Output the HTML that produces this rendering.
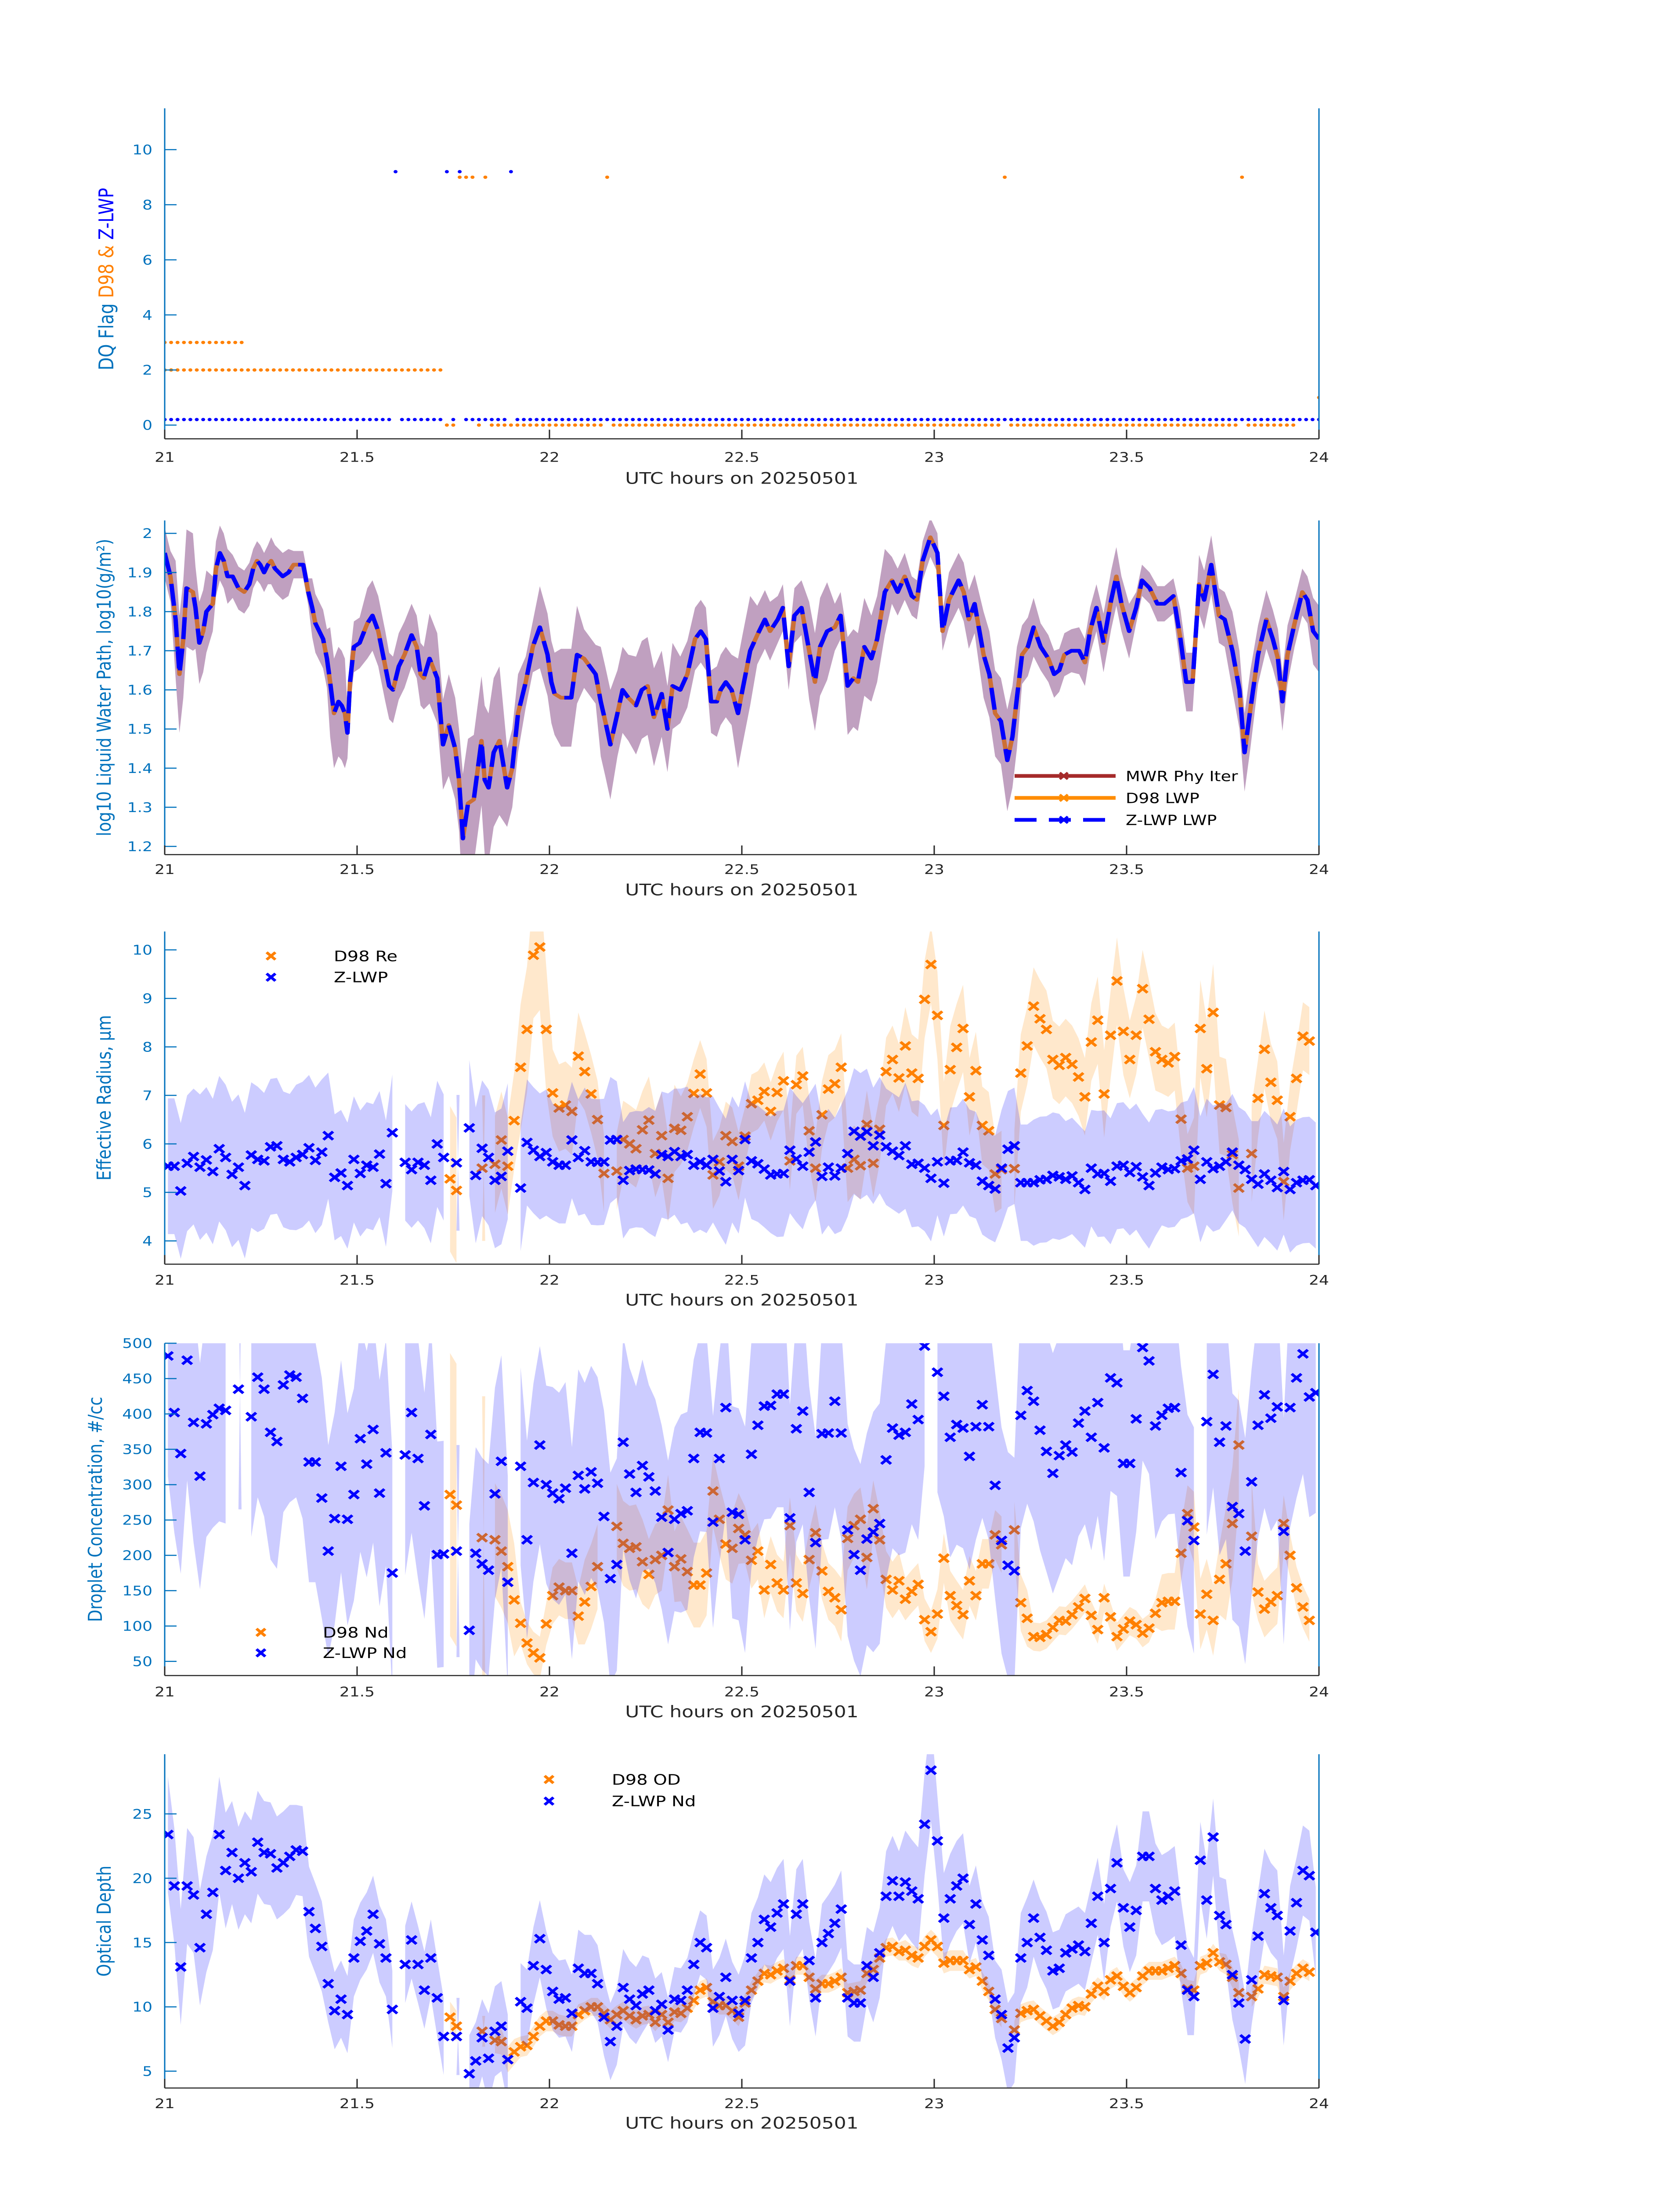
<!DOCTYPE html>
<html><head><meta charset="utf-8"><title>Cloud retrieval panels</title>
<style>
html,body{margin:0;padding:0;background:#fff;overflow:hidden;width:100%;height:100%;}
svg{display:block;width:100vw;height:100vh;}
text{font-family:"DejaVu Sans","Liberation Sans",sans-serif;}
</style></head>
<body>
<svg id="fig" xmlns="http://www.w3.org/2000/svg" viewBox="0 0 3825 6000" preserveAspectRatio="none"></svg>
<script>
// ---------- DATA ----------
const xTickVals = [21, 21.5, 22, 22.5, 23, 23.5, 24];
const xTickLabels = ["21","21.5","22","22.5","23","23.5","24"];

// Panel 1: DQ flags, one per minute (index = minute after 21 UTC)
const d98Flag = [2,2,2,2,2,2,2,2,2,2,
2,2,2,2,2,2,2,2,2,2,
2,2,2,2,2,2,2,2,2,2,
2,2,2,2,2,2,2,2,2,2,
2,2,2,2,0,0,9,9,9,0,
9,0,0,0,0,0,0,0,0,0,
0,0,0,0,0,0,0,0,0,9,
0,0,0,0,0,0,0,0,0,0,
0,0,0,0,0,0,0,0,0,0,
0,0,0,0,0,0,0,0,0,0,
0,0,0,0,0,0,0,0,0,0,
0,0,0,0,0,0,0,0,0,0,
0,0,0,0,0,0,0,0,0,0,
0,9,0,0,0,0,0,0,0,0,
0,0,0,0,0,0,0,0,0,0,
0,0,0,0,0,0,0,0,0,0,
0,0,0,0,0,0,0,0,9,0,
0,0,0,0,0,0,0,null,null,null,
1];
const d98Flag2 = [3,3,3,3,3,3,3,3,3,3,3,3,3];
const zFlag = [0,0,0,0,0,0,0,0,0,0,
0,0,0,0,0,0,0,0,0,0,
0,0,0,0,0,0,0,0,0,0,
0,0,0,0,0,0,9,0,0,0,
0,0,0,0,9,0,9,0,0,0,
0,0,0,0,9,0,0,0,0,0,
0,0,0,0,0,0,0,0,0,0,
0,0,0,0,0,0,0,0,0,0,
0,0,0,0,0,0,0,0,0,0,
0,0,0,0,0,0,0,0,0,0,
0,0,0,0,0,0,0,0,0,0,
0,0,0,0,0,0,0,0,0,0,
0,0,0,0,0,0,0,0,0,0,
0,0,0,0,0,0,0,0,0,0,
0,0,0,0,0,0,0,0,0,0,
0,0,0,0,0,0,0,0,0,0,
0,0,0,0,0,0,0,0,0,0,
0,0,0,0,0,0,0,0,0,0,
0];

// Panel 2: LWP (minutes after 21 UTC, log10 g/m2)
const lwpTimes = [0,0.9,1.7,2.3,2.9,3.4,4.4,4.8,5.4,6.0,
6.5,7.5,8.0,8.6,9.2,9.8,10.6,11.5,12.4,13.2,
13.8,14.4,14.9,15.5,16.1,16.6,17.2,18.4,19.3,20.1,
20.9,21.6,22.4,23.0,23.5,24.1,24.7,25.3,25.8,26.4,
27.1,27.6,28.1,28.5,28.9,29.5,30.4,31.6,32.4,33.3,
34.4,35.0,35.6,36.5,37.4,38.5,39.3,39.9,40.4,41.3,
42.5,43.4,44.3,45.3,45.9,46.5,47.3,48.2,49.4,49.9,
50.5,51.3,52.2,53.4,54.2,55.1,56.3,57.4,58.5,59.7,
60.3,60.8,61.8,62.6,63.4,64.3,65.4,67.2,68.0,68.7,
69.5,70.6,71.4,72.3,73.5,74.4,75.3,76.3,77.5,78.4,
79.2,80.4,81.5,82.7,83.6,84.4,85.2,86.1,86.7,87.5,
88.4,89.4,90.1,91.3,92.4,93.6,94.4,95.6,96.4,97.3,
98.2,99.3,100.5,101.4,102.2,103.3,104.5,105.4,106.5,107.4,
108.1,109.1,110.2,111.1,112.3,113.4,114.3,115.4,116.5,117.3,
118.2,119.4,120.5,121.3,122.3,123.8,124.6,125.4,126.3,127.7,
128.6,129.5,130.4,131.4,132.2,132.9,133.7,134.6,135.5,136.6,
137.8,138.7,139.5,140.3,141.4,142.6,143.5,144.3,145.3,146.4,
147.6,148.4,149.2,150.4,151.5,152.4,153.6,154.8,155.9,157.3,
158.4,159.3,160.3,161.3,162.1,163.2,164.4,165.3,166.5,167.6,
168.4,169.3,170.5,171.8,172.8,173.6,174.3,175.1,176.2,177.4,
178.2,179.1,180];
const d98Lwp = [1.95,1.89,1.78,1.64,1.73,1.86,1.85,1.81,1.72,1.75,
1.80,1.82,1.91,1.95,1.93,1.89,1.89,1.86,1.85,1.87,
1.91,1.93,1.92,1.90,1.92,1.93,1.91,1.89,1.90,1.92,
1.92,1.92,1.85,1.81,1.77,1.75,1.73,1.68,1.62,1.54,
1.57,1.56,1.54,1.49,1.62,1.71,1.72,1.77,1.79,1.75,
1.66,1.61,1.60,1.66,1.69,1.74,1.71,1.64,1.63,1.68,
1.63,1.46,1.51,1.45,1.37,1.22,1.31,1.32,1.47,1.37,
1.35,1.44,1.47,1.35,1.40,1.54,1.62,1.71,1.76,1.69,
1.62,1.59,1.58,1.58,1.58,1.69,1.68,1.64,1.57,1.52,
1.46,1.54,1.60,1.58,1.56,1.60,1.61,1.53,1.59,1.50,
1.61,1.60,1.64,1.73,1.75,1.73,1.57,1.57,1.60,1.62,
1.60,1.54,1.60,1.70,1.74,1.78,1.75,1.78,1.81,1.66,
1.79,1.81,1.70,1.62,1.71,1.75,1.76,1.79,1.61,1.63,
1.62,1.71,1.68,1.73,1.85,1.88,1.85,1.89,1.84,1.83,
1.93,1.99,1.95,1.75,1.83,1.88,1.85,1.78,1.82,1.69,
1.64,1.54,1.52,1.42,1.48,1.58,1.69,1.71,1.76,1.71,
1.68,1.64,1.65,1.69,1.70,1.70,1.67,1.75,1.81,1.72,
1.83,1.89,1.82,1.75,1.81,1.88,1.86,1.82,1.82,1.84,
1.73,1.62,1.62,1.87,1.83,1.92,1.79,1.78,1.70,1.60,
1.44,1.55,1.69,1.78,1.73,1.68,1.57,1.69,1.77,1.85,
1.83,1.75,1.73];
const zLwp = [1.95,1.89,1.78,1.64,1.73,1.86,1.85,1.81,1.72,1.75,
1.80,1.82,1.91,1.95,1.93,1.89,1.89,1.86,1.85,1.87,
1.91,1.93,1.92,1.90,1.92,1.93,1.91,1.89,1.90,1.92,
1.92,1.92,1.85,1.81,1.77,1.75,1.73,1.68,1.62,1.54,
1.57,1.56,1.54,1.49,1.62,1.71,1.72,1.77,1.79,1.75,
1.66,1.61,1.60,1.66,1.69,1.74,1.71,1.64,1.63,1.68,
1.63,1.46,1.51,1.45,1.37,1.22,1.31,1.32,1.47,1.37,
1.35,1.44,1.47,1.35,1.40,1.54,1.62,1.71,1.76,1.69,
1.62,1.59,1.58,1.58,1.58,1.69,1.68,1.64,1.57,1.52,
1.46,1.54,1.60,1.58,1.56,1.60,1.61,1.53,1.59,1.50,
1.61,1.60,1.64,1.73,1.75,1.73,1.57,1.57,1.60,1.62,
1.60,1.54,1.60,1.70,1.74,1.78,1.75,1.78,1.81,1.66,
1.79,1.81,1.70,1.62,1.71,1.75,1.76,1.79,1.61,1.63,
1.62,1.71,1.68,1.73,1.85,1.88,1.85,1.89,1.84,1.83,
1.93,1.99,1.95,1.75,1.83,1.88,1.85,1.78,1.82,1.69,
1.64,1.54,1.52,1.42,1.48,1.58,1.69,1.71,1.76,1.71,
1.68,1.64,1.65,1.69,1.70,1.70,1.67,1.75,1.81,1.72,
1.83,1.89,1.82,1.75,1.81,1.88,1.86,1.82,1.82,1.84,
1.73,1.62,1.62,1.87,1.83,1.92,1.79,1.78,1.70,1.60,
1.44,1.55,1.69,1.78,1.73,1.68,1.57,1.69,1.77,1.85,
1.83,1.75,1.73];
// uncertainty half-width, one value per 3 minutes
const lwpErr = [0.065,0.15,0.105,0.07,0.055,0.05,0.06,0.035,0.075,0.14,
0.065,0.09,0.085,0.08,0.115,0.13,0.165,0.19,0.10,0.065,
0.105,0.125,0.075,0.14,0.11,0.125,0.11,0.085,0.08,0.09,
0.14,0.075,0.06,0.07,0.125,0.06,0.125,0.11,0.06,0.05,
0.05,0.07,0.075,0.11,0.13,0.075,0.06,0.055,0.06,0.075,
0.07,0.04,0.045,0.075,0.075,0.07,0.10,0.075,0.075,0.06,0.085];

// Panels 3-5: per-minute retrievals (minutes after 21 UTC)
const minutes = [0.5,1.5,2.5,3.5,4.5,5.5,6.5,7.5,8.5,9.5,
10.5,11.5,12.5,13.5,14.5,15.5,16.5,17.5,18.5,19.5,
20.5,21.5,22.5,23.5,24.5,25.5,26.5,27.5,28.5,29.5,
30.5,31.5,32.5,33.5,34.5,35.5,36.5,37.5,38.5,39.5,
40.5,41.5,42.5,43.5,44.5,45.5,46.5,47.5,48.5,49.5,
50.5,51.5,52.5,53.5,54.5,55.5,56.5,57.5,58.5,59.5,
60.5,61.5,62.5,63.5,64.5,65.5,66.5,67.5,68.5,69.5,
70.5,71.5,72.5,73.5,74.5,75.5,76.5,77.5,78.5,79.5,
80.5,81.5,82.5,83.5,84.5,85.5,86.5,87.5,88.5,89.5,
90.5,91.5,92.5,93.5,94.5,95.5,96.5,97.5,98.5,99.5,
100.5,101.5,102.5,103.5,104.5,105.5,106.5,107.5,108.5,109.5,
110.5,111.5,112.5,113.5,114.5,115.5,116.5,117.5,118.5,119.5,
120.5,121.5,122.5,123.5,124.5,125.5,126.5,127.5,128.5,129.5,
130.5,131.5,132.5,133.5,134.5,135.5,136.5,137.5,138.5,139.5,
140.5,141.5,142.5,143.5,144.5,145.5,146.5,147.5,148.5,149.5,
150.5,151.5,152.5,153.5,154.5,155.5,156.5,157.5,158.5,159.5,
160.5,161.5,162.5,163.5,164.5,165.5,166.5,167.5,168.5,169.5,
170.5,171.5,172.5,173.5,174.5,175.5,176.5,177.5,178.5,179.5];

const zRe = [5.54,5.54,5.03,5.6,5.74,5.52,5.67,5.43,5.9,5.72,
5.37,5.52,5.14,5.77,5.68,5.65,5.94,5.96,5.68,5.63,
5.72,5.78,5.92,5.66,5.83,6.17,5.31,5.4,5.14,5.68,
5.39,5.56,5.52,5.79,5.18,6.23,null,5.62,5.47,5.62,
5.56,5.25,6.0,5.72,null,5.61,null,6.33,5.35,5.91,
5.72,5.25,5.33,5.85,null,5.09,6.03,5.87,5.74,5.82,
5.63,5.56,5.56,6.08,5.72,5.86,5.63,5.62,5.63,6.08,
6.09,5.25,5.45,5.48,5.47,5.46,5.38,5.78,5.74,5.84,
5.74,5.78,5.56,5.63,5.56,5.68,5.44,5.22,5.68,5.45,
6.09,5.65,5.59,5.48,5.36,5.38,5.39,5.87,5.69,5.54,
5.83,6.04,5.33,5.52,5.34,5.5,5.8,6.26,6.16,6.25,
5.96,6.18,5.94,5.85,5.76,5.96,5.58,5.6,5.5,5.29,
5.63,5.19,5.65,5.66,5.83,5.61,5.56,5.23,5.14,5.07,
5.5,5.89,5.96,5.2,5.2,5.2,5.26,5.27,5.35,5.32,
5.27,5.34,5.2,5.06,5.5,5.38,5.39,5.23,5.54,5.56,
5.41,5.53,5.32,5.14,5.4,5.52,5.47,5.49,5.65,5.69,
5.87,5.27,5.63,5.49,5.54,5.63,5.83,5.56,5.47,5.27,
5.17,5.38,5.25,5.1,5.43,5.06,5.2,5.25,5.26,5.14];
const dRe = [null,null,null,null,null,null,null,null,null,null,
null,null,null,null,null,null,null,null,null,null,
null,null,null,null,null,null,null,null,null,null,
null,null,null,null,null,null,null,null,null,null,
null,null,null,null,5.28,5.04,null,null,null,5.5,
null,5.58,6.08,5.54,6.48,7.58,8.36,9.89,10.06,8.36,
7.05,6.74,6.8,6.67,7.81,7.49,7.03,6.5,5.39,null,
5.44,6.09,6.0,5.9,6.29,6.49,5.8,6.17,5.29,6.32,
6.28,6.56,7.04,7.44,7.05,5.36,5.63,6.17,6.05,5.54,
6.16,6.83,6.9,7.08,6.67,7.06,7.3,5.65,7.22,7.4,
6.27,5.5,6.6,7.13,7.24,7.58,5.5,5.68,5.55,6.4,
5.6,6.3,7.49,7.74,7.36,8.02,7.46,7.35,8.98,9.7,
8.65,6.38,7.53,7.99,8.38,6.97,7.51,6.38,6.27,5.38,
5.47,null,5.49,7.46,8.02,8.84,8.58,8.36,7.74,7.62,
7.78,7.64,7.38,6.97,8.1,8.55,7.03,8.24,9.36,8.32,
7.74,8.24,9.2,8.57,7.9,7.74,7.67,7.8,6.51,5.5,
5.54,8.38,7.55,8.71,6.8,6.75,5.78,5.09,null,5.8,
6.94,7.95,7.27,6.9,5.22,6.56,7.35,8.22,8.12,null];
// uncertainty half-widths, one value per 5 minutes
const zReErr = [1.4,1.5,1.5,1.4,1.5,1.3,1.3,1.2,1.3,1.4,1.4,1.3,1.2,1.3,1.2,1.3,1.4,1.3,1.2,1.3,1.2,1.3,1.2,1.3,1.1,1.1,1.2,1.3,1.2,1.3,1.3,1.2,1.3,1.2,1.3,1.3];
const dReErr = [0,0,0,0,0,0,0,0,1.5,1.5,1.0,1.3,0.9,0.8,0.8,0.9,0.7,0.7,0.6,0.6,0.7,0.7,0.7,0.8,0.9,0.8,0.8,0.8,0.8,0.9,0.8,0.7,1.0,1.0,0.8,0.7];

const zNd = [482,402,344,476,388,312,386,399,408,405,
null,435,null,396,452,435,374,361,441,455,
452,422,332,332,281,206,252,326,251,286,
365,329,378,288,345,175,null,342,402,337,
270,371,201,202,null,206,null,94,203,188,
179,287,333,162,null,326,222,303,356,300,
288,280,295,203,313,294,318,302,255,167,
187,360,315,289,327,311,291,254,204,251,
259,263,337,374,373,247,337,409,261,258,
222,343,384,411,412,428,428,253,379,404,
289,218,372,373,418,373,236,201,179,223,
233,245,335,380,370,374,414,392,496,null,
459,425,367,385,380,340,382,413,382,299,
221,186,178,398,433,418,377,347,316,341,
356,346,387,404,367,416,352,451,444,330,
330,393,494,475,383,398,408,409,317,249,
221,null,389,456,360,383,269,259,206,304,
384,427,394,410,234,409,451,485,424,430];
const dNd = [null,null,null,null,null,null,null,null,null,null,
null,null,null,null,null,null,null,null,null,null,
null,null,null,null,null,null,null,null,null,null,
null,null,null,null,null,null,null,null,null,null,
null,null,null,null,286,271,null,null,null,225,
null,222,206,184,137,104,76,62,55,103,
143,155,150,150,114,134,156,184,null,null,
241,217,210,212,191,173,194,200,264,184,
195,177,158,158,175,291,251,216,210,238,
229,193,206,151,187,161,151,242,161,146,
194,232,178,149,140,123,224,242,251,197,
266,222,166,151,164,138,149,159,109,92,
117,196,143,129,116,164,143,188,188,229,
215,null,236,133,111,85,84,88,98,108,
107,116,127,139,115,95,140,113,85,96,
107,102,90,97,118,133,135,135,203,259,
240,117,145,108,166,188,245,356,null,227,
148,124,134,143,245,200,154,127,108,null];
const zNdErr = [170,160,170,180,170,150,160,170,160,150,150,140,150,150,150,130,140,150,160,160,150,150,170,170,170,160,160,170,160,160,160,150,160,160,160,170];
const dNdErr = [0,0,0,0,0,0,0,0,200,200,80,30,40,60,60,50,60,50,40,40,40,45,40,30,35,35,40,20,20,20,20,40,50,80,40,30];

const zOd = [23.4,19.4,13.1,19.4,18.7,14.6,17.2,18.9,23.4,20.6,
22.0,20.0,21.2,20.5,22.8,22.0,21.9,20.8,21.2,21.7,
22.2,22.1,17.4,16.1,14.7,11.8,9.7,10.6,9.4,13.8,
15.1,15.9,17.2,14.9,13.8,9.8,null,13.3,15.2,13.3,
11.3,13.8,10.7,7.7,null,7.7,null,4.8,5.8,7.6,
6.0,8.1,8.5,5.9,null,10.4,9.9,13.2,15.3,12.9,
11.2,10.6,10.7,9.5,13.0,12.6,12.6,11.8,9.2,7.3,
8.5,11.5,10.6,10.1,11.0,11.3,9.7,10.2,8.2,10.6,
10.5,11.3,13.3,15.0,14.6,9.9,10.8,12.3,10.5,9.5,
10.5,13.8,15.0,16.8,16.2,17.3,18.0,12.0,17.2,18.0,
13.6,10.7,15.0,15.7,16.5,17.6,10.7,10.3,10.3,13.2,
12.3,14.2,18.6,19.8,18.6,19.7,19.0,18.4,24.2,28.4,
22.9,16.9,18.4,19.4,20.0,16.4,18.0,15.2,14.0,10.6,
9.4,6.8,7.6,13.8,15.0,16.9,15.4,14.4,12.8,13.0,
14.2,14.5,14.8,14.3,16.5,18.6,15.0,19.2,21.2,17.7,
16.2,17.5,21.7,21.7,19.2,18.3,18.6,19.0,14.8,11.3,
10.8,21.4,18.3,23.2,17.1,16.4,12.5,10.3,7.5,12.1,
15.5,18.8,17.7,17.1,10.5,15.9,18.1,20.6,20.2,15.8];
const dOd = [null,null,null,null,null,null,null,null,null,null,
null,null,null,null,null,null,null,null,null,null,
null,null,null,null,null,null,null,null,null,null,
null,null,null,null,null,null,null,null,null,null,
null,null,null,null,9.2,8.5,null,null,null,8.1,
null,7.4,7.3,5.9,6.5,6.9,7.0,7.7,8.5,8.9,
8.9,8.6,8.5,8.5,9.4,9.7,10.0,10.0,9.5,9.0,
9.4,9.7,9.3,9.0,9.3,9.4,8.8,9.4,8.8,9.6,
9.5,9.9,10.5,11.3,11.5,10.4,10.1,10.1,9.7,9.2,
10.3,11.3,12.0,12.6,12.5,12.8,13.0,12.1,13.2,13.2,
12.3,11.4,11.8,11.8,12.0,12.3,11.1,11.2,11.3,12.6,
12.9,13.8,14.6,14.7,14.3,14.4,14.0,13.8,14.7,15.2,
14.7,13.4,13.6,13.6,13.6,12.9,13.1,12.0,11.2,9.8,
9.1,null,8.2,9.5,9.7,9.8,9.3,8.9,8.5,8.8,
9.4,9.9,10.1,10.0,11.0,11.6,11.2,12.1,12.4,11.6,
11.1,11.5,12.4,12.8,12.8,12.8,13.0,13.2,12.6,11.4,
11.3,13.2,13.4,14.2,13.5,13.3,12.3,11.1,null,10.8,
11.4,12.5,12.4,12.3,10.8,12.0,12.6,13.0,12.7,null];
const zOdErr = [4.5,4.5,4,4,3.5,3,3,3,3,3,3.5,3,3,3,3,2.5,2.5,3,3.5,3.5,3,3,3.5,4,3.5,3,3.5,3,3,3,3.5,3.5,3,3.5,3.5,3.5];
const dOdErr = [0,0,0,0,0,0,0,0,1.2,1.2,1.0,0.8,0.8,0.7,0.7,0.7,0.7,0.7,0.7,0.7,0.7,0.7,0.7,0.8,0.8,0.7,0.7,0.7,0.7,0.7,0.7,0.7,0.7,0.8,0.7,0.7];

// ---------- RENDER ----------
const NS = "http://www.w3.org/2000/svg";
const svg = document.getElementById("fig");
const X0 = 375, X1 = 3003;
const BLUE = "#0000ff", ORANGE = "#ff8000", AX = "#0072BD", DARK = "#262626";
function mk(tag, attrs, parent) {
  const el = document.createElementNS(NS, tag);
  for (const k in attrs) el.setAttribute(k, attrs[k]);
  (parent || svg).appendChild(el);
  return el;
}
function xMin(m) { return X0 + m / 180 * (X1 - X0); }
function xHour(h) { return xMin((h - 21) * 60); }
function yScale(p) { return v => p.bottom - (v - p.ymin) / (p.ymax - p.ymin) * (p.bottom - p.top); }

const panels = [
  {id:"dq", top:296, bottom:1199, ymin:-0.5, ymax:11.5, ticks:[0,2,4,6,8,10], xlab:1322, ticklab:1262},
  {id:"lwp", top:1422, bottom:2335, ymin:1.179, ymax:2.033, ticks:[1.2,1.3,1.4,1.5,1.6,1.7,1.8,1.9,2], xlab:2446, ticklab:2388},
  {id:"re", top:2545, bottom:3454, ymin:3.52, ymax:10.38, ticks:[4,5,6,7,8,9,10], xlab:3567, ticklab:3510},
  {id:"nd", top:3670, bottom:4578, ymin:30, ymax:500, ticks:[50,100,150,200,250,300,350,400,450,500], xlab:4692, ticklab:4635},
  {id:"od", top:4793, bottom:5705, ymin:3.69, ymax:29.64, ticks:[5,10,15,20,25], xlab:5816, ticklab:5760}
];
const yLabels = ["", "log10 Liquid Water Path, log10(g/m²)", "Effective Radius, μm", "Droplet Concentration, #/cc", "Optical Depth"];

const defs = mk("defs", {});
panels.forEach((p, pi) => {
  const cp = mk("clipPath", {id: "clip-" + p.id}, defs);
  mk("rect", {x: X0, y: p.top, width: X1 - X0, height: p.bottom - p.top}, cp);
  const g = mk("g", {});
  
  
  p.g = g;
  p.plot = mk("g", {"clip-path": "url(#clip-" + p.id + ")"}, g);
  
  
  p.y = yScale(p);
});

function drawAxes(p, pi) {
  const g = p.g;
  const yl = mk("line", {x1: X0, y1: p.top, x2: X0, y2: p.bottom, stroke: AX, "stroke-width": 3}, g);
  
  
  const rl = mk("line", {x1: X1, y1: p.top, x2: X1, y2: p.bottom, stroke: AX, "stroke-width": 3}, g);
  
  
  const bl = mk("line", {x1: X0, y1: p.bottom, x2: X1, y2: p.bottom, stroke: DARK, "stroke-width": 3}, g);
  
  
  p.ticks.forEach(v => {
    const yy = p.y(v);
    const t = mk("line", {x1: X0, y1: yy, x2: X0 + 27, y2: yy, stroke: AX, "stroke-width": 3}, g);
    
    
    const lab = mk("text", {x: 347, y: yy + 13, "text-anchor": "end", "font-size": 36, fill: AX}, g);
    
    
    lab.textContent = String(v);
  });
  xTickVals.forEach((h, i) => {
    const xx = xHour(h);
    const t = mk("line", {x1: xx, y1: p.bottom, x2: xx, y2: p.bottom - 25, stroke: DARK, "stroke-width": 3}, g);
    
    
    const lab = mk("text", {x: xx, y: p.ticklab, "text-anchor": "middle", "font-size": 36, fill: DARK}, g);
    
    
    lab.textContent = xTickLabels[i];
  });
  const xl = mk("text", {x: (X0 + X1) / 2, y: p.xlab, "text-anchor": "middle", "font-size": 44, fill: DARK}, g);
  
  
  xl.textContent = "UTC hours on 20250501";
  if (pi > 0) {
    const cy = (p.top + p.bottom) / 2;
    const lx = pi === 3 ? 232 : 252;
    const t = mk("text", {x: lx, y: cy, "text-anchor": "middle", "font-size": 44, fill: AX, transform: "rotate(-90 " + lx + " " + cy + ")"}, g);
    
    
    t.textContent = yLabels[pi];
  }
}
panels.forEach(drawAxes);

// Panel 1 y label (multi-colour)
(function(){
  const p = panels[0], cy = (p.top + p.bottom) / 2 + 15;
  const t = mk("text", {x: 258, y: cy, "text-anchor": "middle", "font-size": 46, fill: AX, transform: "rotate(-90 258 " + cy + ")"}, p.g);
  
  
  const s1 = mk("tspan", {fill: AX}, t); s1.textContent = "DQ Flag  ";
  const s2 = mk("tspan", {fill: ORANGE}, t); s2.textContent = "D98 &  ";
  const s3 = mk("tspan", {fill: BLUE}, t); s3.textContent = "Z-LWP";
})();

// Panel 1 dots
(function(){
  const p = panels[0];
  d98Flag.forEach((v, i) => {
    if (v === null) return;
    const c = mk("circle", {cx: xMin(i), cy: p.y(v), r: 4.5, fill: ORANGE}, p.plot);
    
    
  });
  d98Flag2.forEach((v, i) => {
    const c = mk("circle", {cx: xMin(i), cy: p.y(v), r: 4.5, fill: ORANGE}, p.plot);
    
    
  });
  zFlag.forEach((v, i) => {
    if (v === null) return;
    const c = mk("circle", {cx: xMin(i), cy: p.y(v + 0.2), r: 4.5, fill: BLUE}, p.plot);
    
    
  });
})();

// Panel 2 LWP
(function(){
  const p = panels[1];
  let up = [], dn = [];
  zLwp.forEach((v, i) => {
    const e = lwpErr[Math.min(lwpErr.length - 1, Math.round(lwpTimes[i] / 3))];
    up.push(xMin(lwpTimes[i]) + "," + p.y(v + e));
    dn.push(xMin(lwpTimes[i]) + "," + p.y(v - e));
  });
  const band = mk("polygon", {points: up.concat(dn.reverse()).join(" "), fill: "rgb(192,160,192)"}, p.plot);
  
  
  const dPts = d98Lwp.map((v, i) => xMin(lwpTimes[i]) + "," + p.y(v)).join(" ");
  const l1 = mk("polyline", {points: dPts, fill: "none", stroke: "#cd6f34", "stroke-width": 10, "stroke-linejoin": "round"}, p.plot);
  
  
  const zPts = zLwp.map((v, i) => xMin(lwpTimes[i]) + "," + p.y(v)).join(" ");
  const l2 = mk("polyline", {points: zPts, fill: "none", stroke: BLUE, "stroke-width": 10, "stroke-dasharray": "60 26", "stroke-linejoin": "round"}, p.plot);
  
  
  const items = [["MWR Phy Iter", "#a52a2a", null, 2120], ["D98 LWP", "#ff8c00", null, 2180], ["Z-LWP LWP", BLUE, "50 28", 2240]];
  items.forEach(it => {
    const lg = mk("g", {}, p.g);
    
    
    const a = {x1: 2310, y1: it[3], x2: 2540, y2: it[3], stroke: it[1], "stroke-width": 10};
    if (it[2]) a["stroke-dasharray"] = it[2];
    mk("line", a, lg);
    mk("path", {d: "M2413," + (it[3]-9) + " l18,18 M2431," + (it[3]-9) + " l-18,18", stroke: it[1], "stroke-width": 6}, lg);
    const t = mk("text", {x: 2563, y: it[3] + 14, "font-size": 38, fill: "#000"}, lg);
    t.textContent = it[0];
  });
})();

function drawBand(p, vals, errs, color, name) {
  let seg = [];
  const segs = [];
  vals.forEach((v, i) => {
    if (v === null) { if (seg.length) segs.push(seg); seg = []; return; }
    seg.push(i);
  });
  if (seg.length) segs.push(seg);
  segs.forEach(s => {
    const up = [], dn = [];
    s.forEach(i => {
      const e = errs[Math.floor(i / 5)];
      const x = xMin(minutes[i]);
      up.push(x + "," + p.y(vals[i] + e));
      dn.push(x + "," + p.y(vals[i] - e));
    });
    if (s.length === 1) {
      const x = xMin(minutes[s[0]]);
      up.push((x + 7) + "," + p.y(vals[s[0]] + errs[Math.floor(s[0]/5)]));
      dn.unshift((x + 7) + "," + p.y(vals[s[0]] - errs[Math.floor(s[0]/5)]));
    }
    const poly = mk("polygon", {points: up.concat(dn.reverse()).join(" "), fill: color}, p.plot);
    
    
  });
}
function drawCrosses(p, vals, color, name) {
  vals.forEach((v, i) => {
    if (v === null) return;
    const x = xMin(minutes[i]), y = p.y(v), s = 11;
    const c = mk("path", {d: "M" + (x - s) + "," + (y - s) + " L" + (x + s) + "," + (y + s) + " M" + (x + s) + "," + (y - s) + " L" + (x - s) + "," + (y + s), stroke: color, "stroke-width": 7}, p.plot);
    
    
  });
}
function legend(p, x, y1, y2, labels, tx) {
  [[ORANGE, labels[0], y1], [BLUE, labels[1], y2]].forEach(it => {
    const lg = mk("g", {}, p.g);
    
    
    mk("path", {d: "M" + (x-10) + "," + (it[2]-10) + " l20,20 M" + (x+10) + "," + (it[2]-10) + " l-20,20", stroke: it[0], "stroke-width": 7}, lg);
    const t = mk("text", {x: tx, y: it[2] + 14, "font-size": 40, fill: "#000"}, lg);
    t.textContent = it[1];
  });
}
const OB = "rgba(255,140,0,0.2)", BB = "rgba(0,0,255,0.2)";
[[panels[2], dRe, dReErr, zRe, zReErr, "re"], [panels[3], dNd, dNdErr, zNd, zNdErr, "nd"], [panels[4], dOd, dOdErr, zOd, zOdErr, "od"]].forEach(a => {
  const [p, dv, de, zv, ze, nm] = a;
  drawBand(p, dv, de, OB, "d98-" + nm + "-band");
  drawCrosses(p, dv, ORANGE, "d98-" + nm + "-point");
  drawBand(p, zv, ze, BB, "zlwp-" + nm + "-band");
  drawCrosses(p, zv, BLUE, "zlwp-" + nm + "-point");
});
legend(panels[2], 617, 2612, 2670, ["D98 Re", "Z-LWP"], 760);
legend(panels[3], 594, 4460, 4516, ["D98 Nd", "Z-LWP Nd"], 735);
legend(panels[4], 1250, 4862, 4921, ["D98 OD", "Z-LWP Nd"], 1393);
</script>
</body></html>
